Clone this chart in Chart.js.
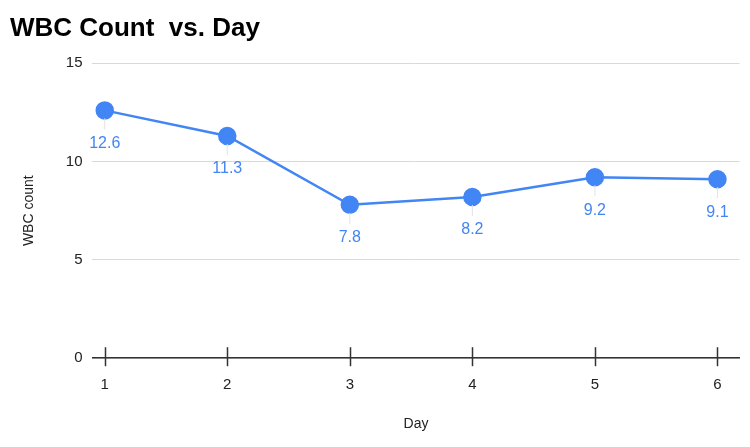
<!DOCTYPE html>
<html>
<head>
<meta charset="utf-8">
<script src="https://cdn.jsdelivr.net/npm/chart.js@4.4.0/dist/chart.umd.min.js"></script>
<style>
  html, body { margin: 0; padding: 0; background: #fff; }
  #wrap { width: 750px; height: 447px; }
</style>
</head>
<body>
<div id="wrap"><canvas id="wbc"></canvas></div>
<script>
var days = [1, 2, 3, 4, 5, 6];
var wbc_count = [12.6, 11.3, 7.8, 8.2, 9.2, 9.1];
var y_ticks = [0, 5, 10, 15];

var blue = '#4285f4';

// value labels under each point, with a thin grey leader line
var pointLabels = {
  id: 'pointLabels',
  afterDatasetsDraw: function (chart) {
    var ctx = chart.ctx;
    var meta = chart.getDatasetMeta(0);
    ctx.save();
    meta.data.forEach(function (pt, i) {
      ctx.strokeStyle = '#e3e3e3';
      ctx.lineWidth = 1;
      ctx.beginPath();
      ctx.moveTo(pt.x, pt.y + 8);
      ctx.lineTo(pt.x, pt.y + 19);
      ctx.stroke();
      ctx.fillStyle = blue;
      ctx.font = '16px "Liberation Sans", Arial, sans-serif';
      ctx.textAlign = 'center';
      ctx.textBaseline = 'middle';
      ctx.fillText(String(wbc_count[i]), pt.x, pt.y + 33);
    });
    ctx.restore();
  }
};

// tick marks that cross the x axis line
var axisTicks = {
  id: 'axisTicks',
  afterDraw: function (chart) {
    var ctx = chart.ctx;
    var x = chart.scales.x;
    var y0 = chart.scales.y.getPixelForValue(0);
    ctx.save();
    ctx.strokeStyle = '#333';
    ctx.lineWidth = 1.5;
    days.forEach(function (d) {
      var px = Math.round(x.getPixelForValue(d)) + 0.5;
      ctx.beginPath();
      ctx.moveTo(px, y0 - 11);
      ctx.lineTo(px, y0 + 8);
      ctx.stroke();
    });
    ctx.restore();
  }
};

new Chart(document.getElementById('wbc'), {
  type: 'line',
  data: {
    datasets: [{
      label: 'WBC count',
      data: days.map(function (d, i) { return { x: d, y: wbc_count[i] }; }),
      borderColor: blue,
      backgroundColor: blue,
      borderWidth: 2.5,
      pointRadius: 8,
      pointHoverRadius: 8,
      tension: 0
    }]
  },
  options: {
    responsive: true,
    maintainAspectRatio: false,
    animation: false,
    layout: { padding: { left: 10, right: 10, top: 0, bottom: 14 } },
    plugins: {
      legend: { display: false },
      tooltip: { enabled: false },
      title: {
        display: true,
        text: 'WBC Count  vs. Day',
        align: 'start',
        color: '#000',
        font: { family: '"Liberation Sans", Arial, sans-serif', size: 26, weight: 'bold' },
        padding: { top: 13, bottom: 19 }
      }
    },
    scales: {
      x: {
        type: 'linear',
        min: 0.9,
        max: 6.18,
        afterBuildTicks: function (axis) {
          axis.ticks = days.map(function (d) { return { value: d }; });
        },
        ticks: {
          color: '#222',
          font: { family: '"Liberation Sans", Arial, sans-serif', size: 15 },
          padding: 18,
          maxRotation: 0
        },
        grid: { display: false, drawTicks: false },
        border: { display: true, color: '#333', width: 1.5 },
        title: {
          display: true,
          text: 'Day',
          color: '#222',
          font: { family: '"Liberation Sans", Arial, sans-serif', size: 14 },
          padding: { top: 4, bottom: 0 }
        }
      },
      y: {
        min: 0,
        max: 15,
        afterBuildTicks: function (axis) {
          axis.ticks = y_ticks.map(function (v) { return { value: v }; });
        },
        ticks: {
          color: '#222',
          font: { family: '"Liberation Sans", Arial, sans-serif', size: 15 },
          padding: 10
        },
        grid: { color: '#d9d9d9', lineWidth: 1, drawTicks: false },
        border: { display: false },
        title: {
          display: true,
          text: 'WBC count',
          color: '#222',
          font: { family: '"Liberation Sans", Arial, sans-serif', size: 14 },
          padding: { top: 11, bottom: 18 }
        }
      }
    }
  },
  plugins: [pointLabels, axisTicks]
});
</script>
</body>
</html>
